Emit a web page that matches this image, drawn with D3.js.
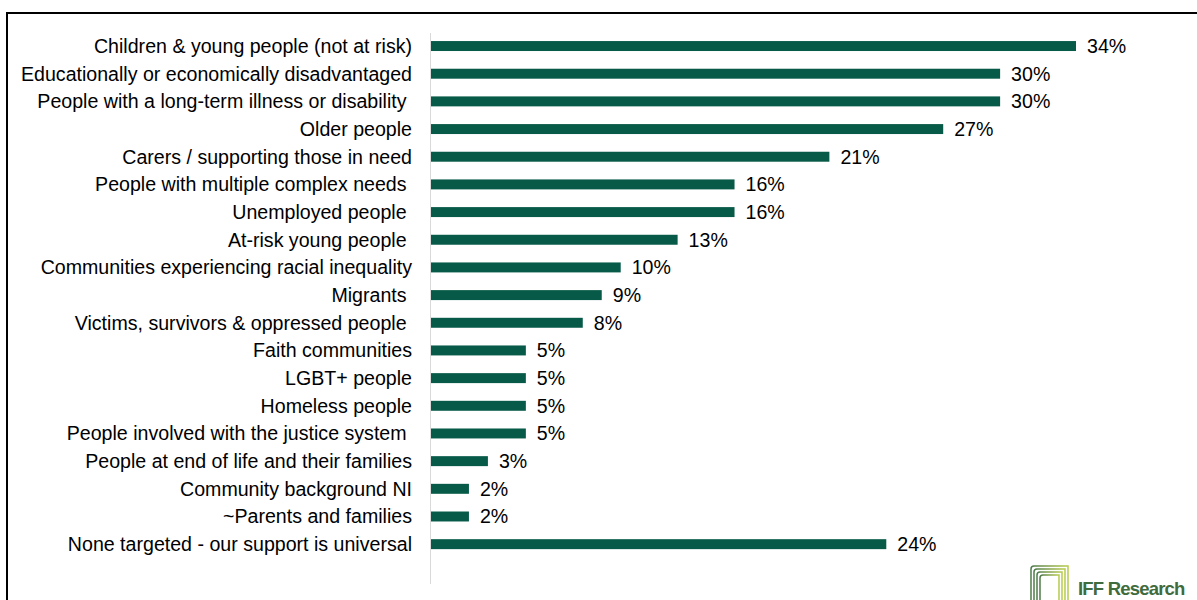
<!DOCTYPE html>
<html>
<head>
<meta charset="utf-8">
<script src="https://cdn.jsdelivr.net/npm/d3@7"></script>
<style>
  html, body { margin: 0; padding: 0; background: #fff; }
  svg { display: block; }
  text { font-family: "Liberation Sans", Arial, sans-serif; white-space: pre; }
</style>
</head>
<body>
<svg id="chart" width="1197" height="600"></svg>
<script>
// Groups supported (% of respondents)
const categories = [
  "Children & young people (not at risk)",
  "Educationally or economically disadvantaged",
  "People with a long-term illness or disability ",
  "Older people",
  "Carers / supporting those in need",
  "People with multiple complex needs ",
  "Unemployed people ",
  "At-risk young people ",
  "Communities experiencing racial inequality",
  "Migrants ",
  "Victims, survivors & oppressed people ",
  "Faith communities",
  "LGBT+ people",
  "Homeless people",
  "People involved with the justice system ",
  "People at end of life and their families",
  "Community background NI",
  "~Parents and families",
  "None targeted - our support is universal"
];
const values = [34, 30, 30, 27, 21, 16, 16, 13, 10, 9, 8, 5, 5, 5, 5, 3, 2, 2, 24];

const svg = d3.select("#chart");
const barColor = "#075a48";
const fontSize = 19.6;

// Frame
svg.append("path")
  .attr("d", "M7,600 L7,13 L1197,13")
  .attr("fill", "none")
  .attr("stroke", "#000")
  .attr("stroke-width", 2);

const x0 = 431;
const x = d3.scaleLinear().domain([0, 34]).range([x0, 1076]);
const y = d3.scaleBand().domain(categories).range([32.2, 558.0]).paddingInner(0.64).paddingOuter(0.32);

// Category axis line
svg.append("line")
  .attr("x1", 430.5).attr("x2", 430.5)
  .attr("y1", 33).attr("y2", 584)
  .attr("stroke", "#d9d9d9").attr("stroke-width", 1);

const rows = svg.append("g").selectAll("g")
  .data(categories.map((c, i) => ({ c, v: values[i] })))
  .join("g");

rows.append("rect")
  .attr("x", x0)
  .attr("y", d => y(d.c))
  .attr("width", d => x(d.v) - x0)
  .attr("height", y.bandwidth())
  .attr("fill", barColor);

rows.append("text")
  .attr("x", 412)
  .attr("y", d => y(d.c) + y.bandwidth() / 2)
  .attr("dy", "0.35em")
  .attr("text-anchor", "end")
  .attr("font-size", fontSize)
  .attr("fill", "#000")
  .text(d => d.c);

rows.append("text")
  .attr("x", d => x(d.v) + 11)
  .attr("y", d => y(d.c) + y.bandwidth() / 2)
  .attr("dy", "0.35em")
  .attr("font-size", fontSize)
  .attr("fill", "#000")
  .text(d => d.v + "%");

// Logo: IFF Research
const logo = svg.append("g").attr("transform", "translate(1030,565)");
const grad = svg.append("defs").append("linearGradient").attr("id", "lg")
  .attr("x1", "0").attr("x2", "1").attr("y1", "0").attr("y2", "0");
grad.append("stop").attr("offset", "0").attr("stop-color", "#4e7a4a");
grad.append("stop").attr("offset", "1").attr("stop-color", "#b8cc4a");
[0, 3, 6, 9].forEach(o => {
  logo.append("path")
    .attr("d", `M${o + 1},40 L${o + 1},${o + 4} Q${o + 1},${o + 1} ${o + 4},${o + 1} L${38 - o},${o + 1} L${38 - o},40`)
    .attr("fill", "none")
    .attr("stroke", "url(#lg)")
    .attr("stroke-width", 1.5);
});
logo.append("text")
  .attr("x", 48).attr("y", 30)
  .attr("font-family", "Roboto, sans-serif")
  .attr("font-size", 18.5)
  .attr("font-weight", "bold")
  .attr("fill", "#3f6b3d")
  .attr("letter-spacing", "-0.8")
  .text("IFF Research");
</script>
</body>
</html>
